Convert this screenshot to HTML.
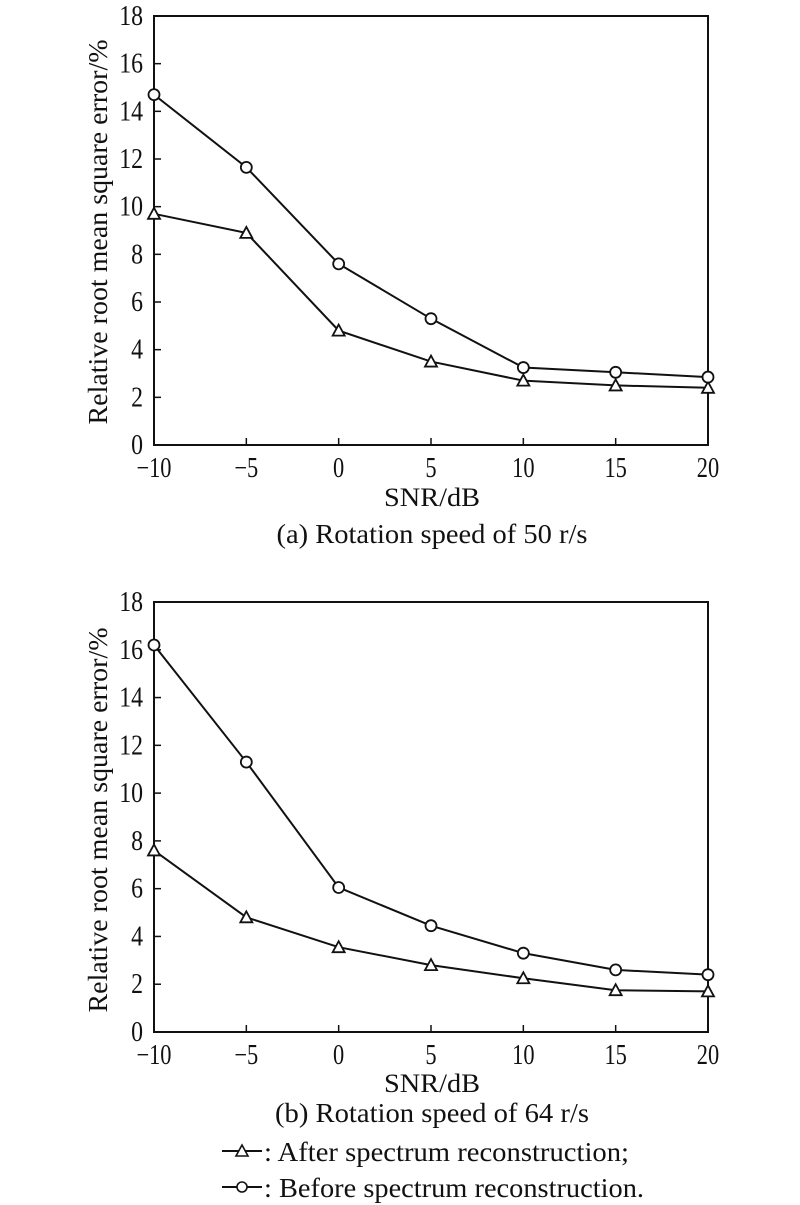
<!DOCTYPE html>
<html><head><meta charset="utf-8"><style>body{margin:0;background:#fff}svg{display:block}text{font-family:"Liberation Serif",serif;fill:#111}</style></head>
<body>
<svg width="800" height="1205" xmlns="http://www.w3.org/2000/svg">
</svg>
<script>
const svg=document.querySelector('svg');const NS='http://www.w3.org/2000/svg';
function el(t,a,txt){const e=document.createElementNS(NS,t);for(const k in a)e.setAttribute(k,a[k]);if(txt!==undefined)e.textContent=txt;svg.appendChild(e);return e;}
const X0=154,X1=708;
function plot(yTop,yBot,tri,cir,tickBase,snrBase,capBase,cap,capLen,ylabY){
 const sx=v=>X0+(v+10)/30*(X1-X0), sy=v=>yBot-(v/18)*(yBot-yTop);
 el('rect',{x:X0,y:yTop,width:X1-X0,height:yBot-yTop,fill:'none',stroke:'#111','stroke-width':2});
 for(let v=-10;v<=20;v+=5){const x=sx(v);el('line',{x1:x,y1:yBot,x2:x,y2:yBot-7,stroke:'#111','stroke-width':1.5});
  el('text',{x:x,y:tickBase+2,'font-size':28,'text-anchor':'middle',transform:`translate(${x*(1-0.8)},0) scale(0.8,1)`},v<0?'\u2212'+(-v):v);}
 for(let v=0;v<=18;v+=2){const y=sy(v);el('line',{x1:X0,y1:y,x2:X0+7,y2:y,stroke:'#111','stroke-width':1.5});
  el('text',{x:143,y:y+9,'font-size':28,'text-anchor':'end',transform:`translate(${143*(1-0.85)},0) scale(0.85,1)`},v);}
 el('text',{x:432,y:snrBase,'font-size':26,'text-anchor':'middle',textLength:96,lengthAdjust:'spacingAndGlyphs'},'SNR/dB');
 el('text',{x:432,y:capBase,'font-size':27,'text-anchor':'middle',textLength:capLen,lengthAdjust:'spacingAndGlyphs'},cap);
 el('text',{x:0,y:0,'font-size':27,'text-anchor':'middle',textLength:385,lengthAdjust:'spacingAndGlyphs',transform:`translate(107,${ylabY}) rotate(-90)`},'Relative root mean square error/%');
 const xs=[-10,-5,0,5,10,15,20];
 for(const [d,m] of [[tri,'t'],[cir,'c']]){
  el('polyline',{points:d.map((v,i)=>sx(xs[i])+','+sy(v)).join(' '),fill:'none',stroke:'#111','stroke-width':2});
  d.forEach((v,i)=>{const x=sx(xs[i]),y=sy(v);
   if(m=='c')el('circle',{cx:x,cy:y,r:5.5,fill:'#fff',stroke:'#111','stroke-width':1.8});
   else el('polygon',{points:`${x},${y-6} ${x-6},${y+5} ${x+6},${y+5}`,fill:'#fff',stroke:'#111','stroke-width':1.8});});
 }
}
plot(16,445,[9.7,8.9,4.8,3.5,2.7,2.5,2.4],[14.7,11.65,7.6,5.3,3.25,3.05,2.85],475,506,543,'(a) Rotation speed of 50 r/s',311,232);
plot(602,1032,[7.6,4.8,3.55,2.8,2.25,1.75,1.7],[16.2,11.3,6.05,4.45,3.3,2.6,2.4],1062,1092,1122,'(b) Rotation speed of 64 r/s',314,820);
el('line',{x1:222,y1:1151,x2:262,y2:1151,stroke:'#111','stroke-width':2});
el('polygon',{points:'242,1145 236,1156 248,1156',fill:'#fff',stroke:'#111','stroke-width':1.6});
el('text',{x:264,y:1161,'font-size':27,textLength:365,lengthAdjust:'spacingAndGlyphs'},': After spectrum reconstruction;');
el('line',{x1:222,y1:1187,x2:262,y2:1187,stroke:'#111','stroke-width':2});
el('circle',{cx:242,cy:1187,r:5,fill:'#fff',stroke:'#111','stroke-width':1.6});
el('text',{x:264,y:1197,'font-size':27,textLength:380,lengthAdjust:'spacingAndGlyphs'},': Before spectrum reconstruction.');
</script>
</body></html>
